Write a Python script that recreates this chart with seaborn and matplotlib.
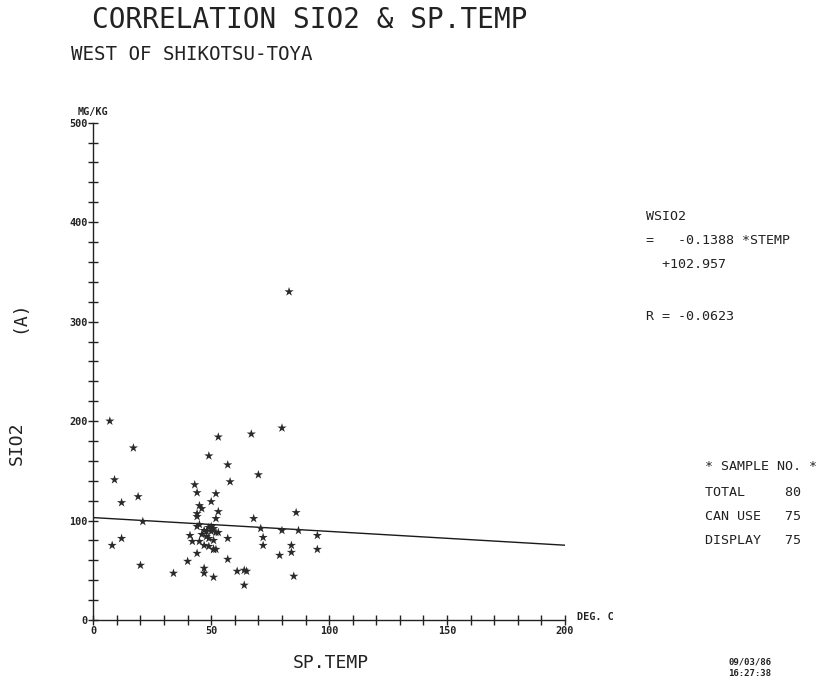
import matplotlib
matplotlib.use("Agg")
import matplotlib.pyplot as plt
import seaborn as sns
import numpy as np
import pandas as pd

# Spring temperature (deg C) and SiO2 content (mg/kg) per sample
sp_temp = [7, 9, 8, 12, 12, 17, 19, 21, 20, 34, 40, 41, 42,
           43, 44, 44, 44, 44, 44, 46, 45, 50, 49, 52, 53, 52, 50,
           47, 48, 50, 52, 53, 45, 47, 49, 51, 52, 47, 47, 51, 53,
           51, 45, 49, 51, 46, 49, 51, 48,
           57, 58, 57, 57, 61, 64, 65, 64, 67, 68, 70, 71, 72, 72,
           80, 80, 79, 84, 84, 86, 85, 87, 95, 95, 83]
sio2 = [200, 141, 75, 118, 82, 173, 124, 99, 55, 47, 59, 85, 79,
        136, 128, 107, 104, 94, 67, 112, 115, 119, 165, 127, 109, 102, 94,
        90, 89, 89, 88, 88, 79, 75, 74, 71, 71, 52, 47, 43, 184,
        71, 96, 93, 92, 86, 82, 80, 84,
        156, 139, 82, 61, 49, 50, 49, 35, 187, 102, 146, 92, 83, 75,
        193, 90, 65, 68, 75, 108, 44, 90, 85, 71, 330]

# Regression line WSIO2 = a * STEMP + b
slope = -0.1388
intercept = 102.957
r_value = -0.0623
line_x = [0, 200]

x_major = [0, 50, 100, 150, 200]
y_major = [0, 100, 200, 300, 400, 500]

total_n, canuse_n, display_n = 80, 75, 75

df = pd.DataFrame({"SP.TEMP": sp_temp, "SIO2": sio2})
fit = pd.DataFrame({"x": line_x, "y": [slope * v + intercept for v in line_x]})

sns.set_theme(style="white")
plt.rcParams["font.family"] = ["DejaVu Sans Mono", "DejaVu Sans"]
ink = "#222222"

W, H = 820, 683
fig = plt.figure(figsize=(W / 100, H / 100), dpi=100)
ax = fig.add_axes([93.3 / W, 1 - 620 / H, (565 - 93.3) / W, (620 - 122.7) / H])


def fx(x):
    return x / W


def fy(y):
    return 1 - y / H


sns.scatterplot(data=df, x="SP.TEMP", y="SIO2", marker="*", s=48,
                color="#2a2a2a", edgecolor="none", linewidth=0, ax=ax, zorder=3)
sns.lineplot(data=fit, x="x", y="y", color="#1a1a1a", linewidth=1.0, ax=ax)

ax.set_xlim(0, 200)
ax.set_ylim(0, 500)
for s in ("top", "right"):
    ax.spines[s].set_visible(False)
for s in ("left", "bottom"):
    ax.spines[s].set_color(ink)
    ax.spines[s].set_linewidth(1.0)

ax.set_xticks(x_major)
ax.set_xticks(np.arange(0, 201, 10), minor=True)
ax.set_yticks(y_major)
ax.set_yticks(np.arange(0, 501, 20), minor=True)
ax.set_xticklabels([str(v) for v in x_major], fontsize=7.3, fontweight="bold", color=ink)
ax.set_yticklabels([str(v) for v in y_major], fontsize=7.3, fontweight="bold", color=ink)
ax.tick_params(which="both", direction="inout", length=6.5, width=1.0, color=ink,
               bottom=True, left=True, pad=1)
ax.set_xlabel("")
ax.set_ylabel("")

# Unit labels at the axis ends
fig.text(fx(577), fy(617), "DEG. C", fontsize=7.3, fontweight="bold", color=ink,
         ha="left", va="center")
fig.text(fx(92.5), fy(112), "MG/KG", fontsize=7.3, fontweight="bold", color=ink,
         ha="center", va="center")

# Titles
fig.text(fx(92), fy(20), "CORRELATION SIO2 & SP.TEMP", fontsize=20, color=ink,
         ha="left", va="center")
fig.text(fx(71), fy(55), "WEST OF SHIKOTSU-TOYA", fontsize=13.8, color=ink,
         ha="left", va="center")

# Axis titles
fig.text(fx(331), fy(663), "SP.TEMP", fontsize=13, color=ink, ha="center", va="center")
fig.text(fx(17), fy(443), "SIO2", fontsize=13, color=ink, ha="center", va="center",
         rotation=90)
fig.text(fx(19), fy(317), "(A)", fontsize=13, color=ink, ha="center", va="center",
         rotation=90)

# Regression equation
fs = 9.6
fig.text(fx(646), fy(217), "WSIO2", fontsize=fs, color=ink, ha="left", va="center")
fig.text(fx(646), fy(241), f"=   {slope:.4f} *STEMP", fontsize=fs, color=ink,
         ha="left", va="center")
fig.text(fx(646), fy(264), f"  +{intercept:.3f}", fontsize=fs, color=ink,
         ha="left", va="center")
fig.text(fx(646), fy(316), f"R = {r_value:.4f}", fontsize=fs, color=ink,
         ha="left", va="center")

# Sample counts
fig.text(fx(705), fy(466), "* SAMPLE NO. *", fontsize=fs, color=ink, ha="left", va="center")
fig.text(fx(705), fy(492), f"TOTAL     {total_n}", fontsize=fs, color=ink, ha="left", va="center")
fig.text(fx(705), fy(517), f"CAN USE   {canuse_n}", fontsize=fs, color=ink, ha="left", va="center")
fig.text(fx(705), fy(541), f"DISPLAY   {display_n}", fontsize=fs, color=ink, ha="left", va="center")

# Date and time stamp
fig.text(fx(750), fy(662), "09/03/86", fontsize=6.5, fontweight="bold", color=ink,
         ha="center", va="center")
fig.text(fx(750), fy(673), "16:27:38", fontsize=6.5, fontweight="bold", color=ink,
         ha="center", va="center")

fig.savefig("out.png", dpi=100, facecolor="white")
